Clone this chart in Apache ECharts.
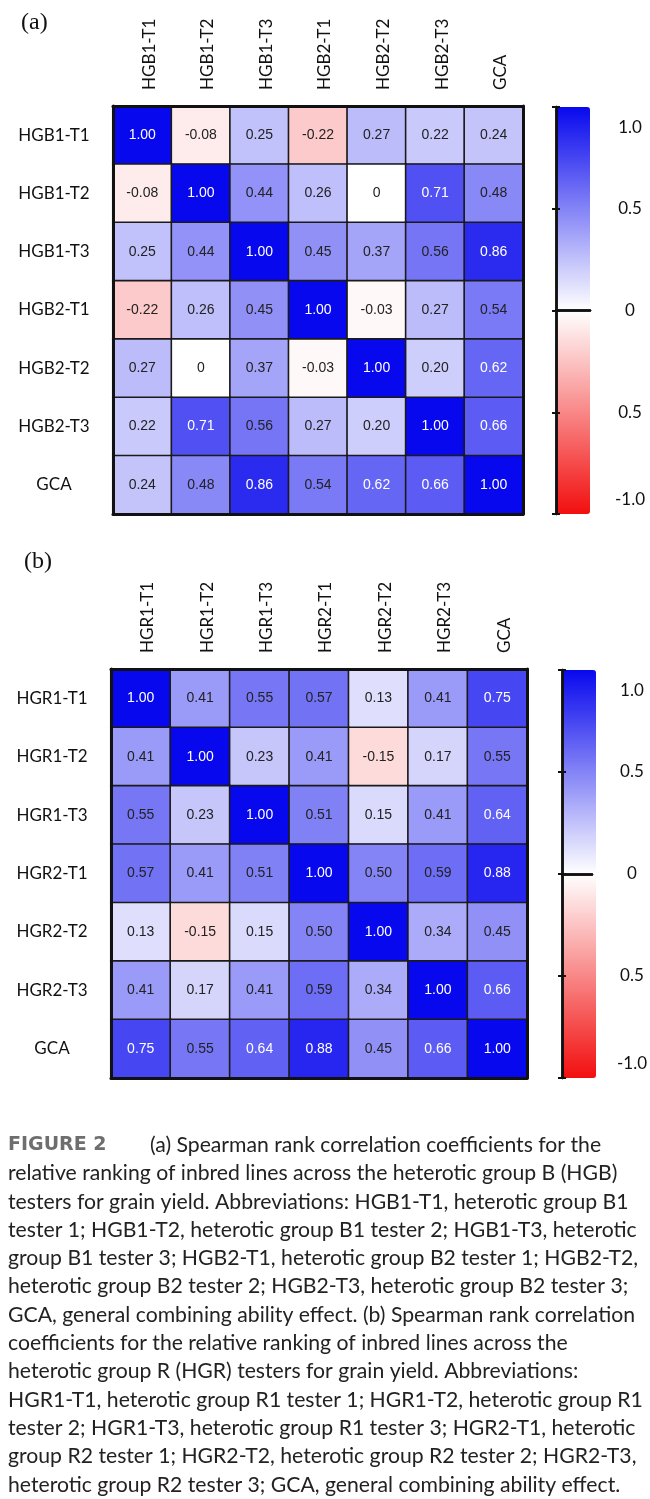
<!DOCTYPE html>
<html>
<head>
<meta charset="utf-8">
<script src="https://cdn.jsdelivr.net/npm/echarts@6/dist/echarts.min.js"></script>
<style>
  html, body { margin: 0; padding: 0; background: #fff; }
  #main { width: 650px; height: 1499px; }
</style>
</head>
<body>
<div id="main"></div>
<script>
// categories of the two panels
var testersB = ['HGB1-T1', 'HGB1-T2', 'HGB1-T3', 'HGB2-T1', 'HGB2-T2', 'HGB2-T3', 'GCA'];
var testersR = ['HGR1-T1', 'HGR1-T2', 'HGR1-T3', 'HGR2-T1', 'HGR2-T2', 'HGR2-T3', 'GCA'];

// spearman coefficients, row by row
var corrB = [
  [1.00, -0.08, 0.25, -0.22, 0.27, 0.22, 0.24],
  [-0.08, 1.00, 0.44, 0.26, 0, 0.71, 0.48],
  [0.25, 0.44, 1.00, 0.45, 0.37, 0.56, 0.86],
  [-0.22, 0.26, 0.45, 1.00, -0.03, 0.27, 0.54],
  [0.27, 0, 0.37, -0.03, 1.00, 0.20, 0.62],
  [0.22, 0.71, 0.56, 0.27, 0.20, 1.00, 0.66],
  [0.24, 0.48, 0.86, 0.54, 0.62, 0.66, 1.00]
];
var corrR = [
  [1.00, 0.41, 0.55, 0.57, 0.13, 0.41, 0.75],
  [0.41, 1.00, 0.23, 0.41, -0.15, 0.17, 0.55],
  [0.55, 0.23, 1.00, 0.51, 0.15, 0.41, 0.64],
  [0.57, 0.41, 0.51, 1.00, 0.50, 0.59, 0.88],
  [0.13, -0.15, 0.15, 0.50, 1.00, 0.34, 0.45],
  [0.41, 0.17, 0.41, 0.59, 0.34, 1.00, 0.66],
  [0.75, 0.55, 0.64, 0.88, 0.45, 0.66, 1.00]
];

// colour bar tick labels (the -0.5 one has no minus in the figure)
var barTicks = { '1': '{top|1.0}', '0.5': '0.5', '0': '0', '-0.5': '0.5', '-1': '{bot|-1.0}' };

var captionLines = [
  'relative ranking of inbred lines across the heterotic group B (HGB)',
  'testers for grain yield. Abbreviations: HGB1-T1, heterotic group B1',
  'tester 1; HGB1-T2, heterotic group B1 tester 2; HGB1-T3, heterotic',
  'group B1 tester 3; HGB2-T1, heterotic group B2 tester 1; HGB2-T2,',
  'heterotic group B2 tester 2; HGB2-T3, heterotic group B2 tester 3;',
  'GCA, general combining ability effect. (b) Spearman rank correlation',
  'coefficients for the relative ranking of inbred lines across the',
  'heterotic group R (HGR) testers for grain yield. Abbreviations:',
  'HGR1-T1, heterotic group R1 tester 1; HGR1-T2, heterotic group R1',
  'tester 2; HGR1-T3, heterotic group R1 tester 3; HGR2-T1, heterotic',
  'group R2 tester 1; HGR2-T2, heterotic group R2 tester 2; HGR2-T3,',
  'heterotic group R2 tester 3; GCA, general combining ability effect.'
];

var lbl = '#111';
var colors = ['#f20f0f', '#ffffff', '#0808ee'];

function cells(m) {
  var out = [];
  for (var r = 0; r < m.length; r++) {
    for (var c = 0; c < m[r].length; c++) {
      var v = m[r][c];
      out.push({ value: [c, r, v], label: { color: v >= 0.6 ? '#ffffff' : '#222' } });
    }
  }
  return out;
}

function fmt(p) {
  var v = p.value[2];
  return v === 0 ? '0' : v.toFixed(2);
}

// grids: heat a, bar a, heat b, bar b
var grids = [
  { left: 113, top: 106, width: 410, height: 408 },
  { left: 556, top: 107, width: 34, height: 407 },
  { left: 111, top: 669, width: 416, height: 409 },
  { left: 562, top: 670, width: 34, height: 408 }
];

var xAxes = [], yAxes = [];
function heatAxes(g, cats) {
  xAxes.push({
    type: 'category', gridIndex: g, data: cats, position: 'top', z: 6,
    axisLine: { show: true, lineStyle: { color: '#111', width: 3 } },
    axisTick: { show: false }, splitLine: { show: false },
    axisLabel: {
      rotate: -90, margin: 16,
      formatter: function (v) { return '{c|' + v + '}'; },
      rich: { c: { color: lbl, fontFamily: 'Lato', fontSize: 17, padding: [14, 0, 0, 0] } }
    }
  });
  xAxes.push({
    type: 'category', gridIndex: g, data: cats, position: 'bottom', z: 6,
    axisLine: { show: true, lineStyle: { color: '#111', width: 3 } },
    axisTick: { show: false }, axisLabel: { show: false }
  });
  yAxes.push({
    type: 'category', gridIndex: g, data: cats, inverse: true, position: 'left', z: 6,
    axisLine: { show: true, lineStyle: { color: '#111', width: 3 } },
    axisTick: { show: false }, splitLine: { show: false },
    axisLabel: { margin: 59, align: 'center', color: lbl, fontFamily: 'Lato', fontSize: 17 }
  });
  yAxes.push({
    type: 'category', gridIndex: g, data: cats, inverse: true, position: 'right', z: 6,
    axisLine: { show: true, lineStyle: { color: '#111', width: 3 } },
    axisTick: { show: false }, axisLabel: { show: false }
  });
}
function barAxes(g) {
  ['bottom', 'top'].forEach(function (pos) {
    xAxes.push({
      type: 'value', gridIndex: g, min: 0, max: 1, position: pos, z: 10,
      axisLine: { show: true, lineStyle: { color: '#111', width: 2.5 } },
      axisTick: { show: false }, axisLabel: { show: false }, splitLine: { show: false }
    });
  });
  yAxes.push({
    type: 'value', gridIndex: g, min: -1, max: 1, interval: 0.5, position: 'right', z: 10,
    axisLine: { show: true, lineStyle: { color: '#111', width: 2.5 } },
    axisTick: { show: true, inside: true, length: 4, lineStyle: { color: '#111', width: 2 } },
    splitLine: { show: false },
    axisLabel: {
      margin: 40, align: 'center', color: lbl, fontFamily: 'Lato', fontSize: 17,
      verticalAlignMinLabel: 'bottom', verticalAlignMaxLabel: 'top',
      formatter: function (v) { return barTicks[String(v)]; },
      rich: {
        top: { fontFamily: 'Lato', fontSize: 17, color: lbl, padding: [12, 0, 0, 0] },
        bot: { fontFamily: 'Lato', fontSize: 17, color: lbl, padding: [0, 0, 6, 0] }
      }
    }
  });
  yAxes.push({
    type: 'value', gridIndex: g, min: -1, max: 1, interval: 0.5, position: 'left', z: 10,
    axisLine: { show: true, lineStyle: { color: '#111', width: 2.5 } },
    axisTick: { show: true, inside: true, length: 4, lineStyle: { color: '#111', width: 2 } },
    splitLine: { show: false }, axisLabel: { show: false }
  });
}
heatAxes(0, testersB); // x 0,1  y 0,1
barAxes(1);            // x 2,3  y 2,3
heatAxes(2, testersR); // x 4,5  y 4,5
barAxes(3);            // x 6,7  y 6,7

function heatSeries(xi, yi, m) {
  return {
    type: 'heatmap', xAxisIndex: xi, yAxisIndex: yi, data: cells(m),
    itemStyle: { borderColor: '#1a1a1a', borderWidth: 1.6 },
    label: { show: true, formatter: fmt, fontFamily: 'Liberation Sans', fontSize: 14 },
    emphasis: { disabled: true }
  };
}

var option = {
  backgroundColor: '#ffffff',
  animation: false,
  grid: grids,
  xAxis: xAxes,
  yAxis: yAxes,
  visualMap: [
    { type: 'continuous', seriesIndex: 0, min: -1, max: 1, calculable: false, padding: 0,
      left: 556, top: 107, itemWidth: 34, itemHeight: 407, text: ['', ''], showLabel: false,
      inRange: { color: colors.slice() } },
    { type: 'continuous', seriesIndex: 1, min: -1, max: 1, calculable: false, padding: 0,
      left: 562, top: 670, itemWidth: 34, itemHeight: 408, text: ['', ''], showLabel: false,
      inRange: { color: colors.slice() } }
  ],
  series: [heatSeries(0, 0, corrB), heatSeries(4, 4, corrR)],
  graphic: [
    { type: 'text', left: 21, top: 11, style: { text: '(a)', font: '24px "Liberation Serif"', fill: '#111' } },
    { type: 'text', left: 24, top: 550, style: { text: '(b)', font: '24px "Liberation Serif"', fill: '#111' } },
    {
      type: 'text', left: 8, top: 1131,
      style: {
        text: '{fig|FIGURE 2}(a) Spearman rank correlation coefficients for the\n' + captionLines.join('\n'),
        fontFamily: 'Lato', fontSize: 21.2, lineHeight: 28.3, fill: '#222',
        rich: {
          fig: { fontFamily: 'DejaVu Sans', fontWeight: 'bold', fontSize: 19, fill: '#6e6e6e', width: 142, lineHeight: 28.3 }
        }
      }
    }
  ]
};

var myChart = echarts.init(document.getElementById('main'));
myChart.setOption(option);
</script>
</body>
</html>
